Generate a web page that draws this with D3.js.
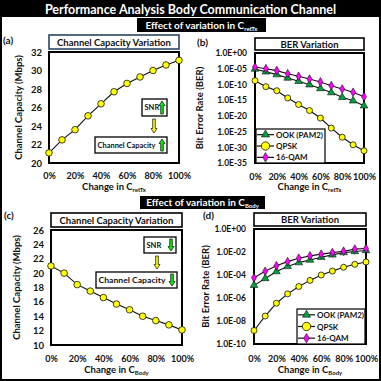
<!DOCTYPE html>
<html><head><meta charset="utf-8">
<script src="https://cdn.jsdelivr.net/npm/d3@7"></script>
<style>
body{margin:0;background:#fff}
svg text{font-family:Lato,'Open Sans',sans-serif;font-weight:bold;fill:#111}
</style>
</head><body>
<svg id="chart" width="381" height="381"></svg>
<script>
// ---------- data ----------
const changeLevels = [0, 0.1, 0.2, 0.3, 0.4, 0.5, 0.6, 0.7, 0.8, 0.9, 1.0];
const xTickValues = [0, 0.2, 0.4, 0.6, 0.8, 1.0];
const capacityRetTx = [21.1, 22.5, 23.6, 25.1, 26.4, 27.7, 28.6, 29.3, 30.0, 30.6, 31.1];
const capacityBody  = [21.0, 20.0, 18.4, 17.5, 16.6, 15.7, 14.9, 14.0, 13.4, 12.8, 12.1];
const berRetTxOOK   = [7.9e-6, 1e-6, 1.3e-7, 1.1e-8, 1e-9, 7.9e-11, 5e-12, 2.5e-13, 7.9e-15, 6.3e-16, 1.6e-17];
const berRetTxQPSK  = [1.6e-9, 2e-11, 1e-12, 5e-15, 4e-17, 5e-19, 2e-21, 1.3e-24, 1.6e-27, 6.3e-30, 7.9e-32];
const berRetTxQAM16 = [3.5e-5, 1e-5, 2.5e-6, 2.5e-7, 4e-8, 5e-9, 6.3e-10, 4e-11, 3.5e-12, 3.2e-13, 1.3e-14];
const berBodyOOK    = [1.26e-5, 5e-5, 2e-4, 5.6e-4, 1.2e-3, 2e-3, 3.5e-3, 5.6e-3, 8.9e-3, 1.1e-2, 1.35e-2];
const berBodyQPSK   = [1.5e-9, 2.7e-8, 3.5e-7, 2.3e-6, 1e-5, 3.4e-5, 1e-4, 2.2e-4, 4.7e-4, 8.5e-4, 1.35e-3];
const berBodyQAM16  = [5.8e-5, 2.1e-4, 6.3e-4, 1.45e-3, 2.9e-3, 4.6e-3, 6.5e-3, 8.9e-3, 1.17e-2, 1.78e-2, 2e-2];
const capTicksRetTx = [20, 22, 24, 26, 28, 30, 32];
const capTicksBody  = [10, 12, 14, 16, 18, 20, 22, 24, 26];
const berTicksRetTx = [1, 1e-5, 1e-10, 1e-15, 1e-20, 1e-25, 1e-30, 1e-35];
const berTicksBody  = [1, 1e-2, 1e-4, 1e-6, 1e-8, 1e-10];
const seriesNames = ["OOK (PAM2)", "QPSK", "16-QAM"];

// ---------- drawing ----------
const svg = d3.select("#chart");
const W = 381, H = 381;

svg.append("rect").attr("x",1).attr("y",1).attr("width",W-2).attr("height",H-2)
  .attr("fill","#fff").attr("stroke","#000").attr("stroke-width",2);
svg.append("rect").attr("x",0).attr("y",0).attr("width",W).attr("height",17).attr("fill","#000");
svg.append("text").attr("x",W/2).attr("y",9).attr("text-anchor","middle")
  .attr("dominant-baseline","central").style("fill","#fff").style("font-size","12.5px")
  .text("Performance Analysis Body Communication Channel");

function effectBox(x, y, w, h, sub) {
  svg.append("rect").attr("x",x).attr("y",y).attr("width",w).attr("height",h).attr("fill","#000");
  const t = svg.append("text").attr("x",x+w/2).attr("y",y+h/2+3.5).attr("text-anchor","middle")
    .style("fill","#fff").style("font-size","10px");
  t.append("tspan").text("Effect of variation in C");
  t.append("tspan").attr("dy",2).style("font-size","6px").style("fill","#fff").text(sub);
}
effectBox(137, 18, 129, 14, "retTx");
effectBox(140, 196, 125, 13, "Body");

const fmtBer = v => {
  const e = Math.round(Math.log10(v));
  return "1.0E" + (e < 0 ? "-" : "+") + String(Math.abs(e)).padStart(2,"0");
};

function blockArrow(g, cx, yTop, yBot, fill, dir) {
  const hw = 3.0, sw = 1.3, hl = 4.5;
  let p;
  if (dir < 0) {
    p = `M${cx},${yTop} L${cx+hw},${yTop+hl} L${cx+sw},${yTop+hl} L${cx+sw},${yBot} L${cx-sw},${yBot} L${cx-sw},${yTop+hl} L${cx-hw},${yTop+hl} Z`;
  } else {
    p = `M${cx},${yBot} L${cx+hw},${yBot-hl} L${cx+sw},${yBot-hl} L${cx+sw},${yTop} L${cx-sw},${yTop} L${cx-sw},${yBot-hl} L${cx-hw},${yBot-hl} Z`;
  }
  g.append("path").attr("d",p).attr("fill",fill).attr("stroke","#222").attr("stroke-width",0.8);
}

function marker(g, type, x, y, s) {
  if (type === "circle") {
    g.append("circle").attr("cx",x).attr("cy",y).attr("r",s)
      .attr("fill","#ffff00").attr("stroke","#111").attr("stroke-width",0.8);
  } else if (type === "triangle") {
    g.append("path").attr("d",d3.symbol(d3.symbolTriangle, s*s*2.2)())
      .attr("transform",`translate(${x},${y})`)
      .attr("fill","#00a040").attr("stroke","#111").attr("stroke-width",0.6);
  } else {
    g.append("path").attr("d",d3.symbol(d3.symbolDiamond, s*s*2.0)())
      .attr("transform",`translate(${x},${y})`)
      .attr("fill","#ff00ff").attr("stroke","#111").attr("stroke-width",0.6);
  }
}

function panel(o) {
  const g = svg.append("g");
  const x = d3.scaleLinear().domain([0,1]).range([o.x0, o.x1]);
  const y = o.log ? d3.scaleLog().domain(o.yDomain).range([o.y1, o.y0])
                  : d3.scaleLinear().domain(o.yDomain).range([o.y1, o.y0]);
  g.append("text").attr("x",o.lx).attr("y",o.ly).style("font-size","10px").text(o.letter);
  g.append("rect").attr("x",o.x0).attr("y",o.ty0).attr("width",o.x1-o.x0).attr("height",o.ty1-o.ty0)
    .attr("fill","#fff").attr("stroke",o.titleStroke||"#000").attr("stroke-width",1.6);
  g.append("text").attr("x",(o.x0+o.x1)/2).attr("y",(o.ty0+o.ty1)/2).attr("text-anchor","middle")
    .attr("dominant-baseline","central").style("font-size","9.5px").text(o.title);
  const ya = d3.axisLeft(y).tickValues(o.yTicks).tickSize(0).tickPadding(o.tickPad)
    .tickFormat(o.log ? fmtBer : d3.format("d"));
  const yg = g.append("g").attr("transform",`translate(${o.x0},0)`).call(ya);
  yg.select(".domain").remove();
  yg.selectAll("text").style("font-size", o.log ? "8.5px" : "9.5px").style("font-family","Lato,sans-serif").style("font-weight","bold");
  const xa = d3.axisBottom(x).tickValues(xTickValues).tickSize(0).tickPadding(0)
    .tickFormat(d3.format(".0%"));
  const xg = g.append("g").attr("transform",`translate(0,${o.xLabY})`).call(xa);
  xg.select(".domain").remove();
  xg.selectAll("text").attr("dy","0.32em").attr("y",0).style("font-size","9px").style("font-family","Lato,sans-serif").style("font-weight","bold");
  g.append("text").attr("transform",`translate(${o.ytx},${(o.y0+o.y1)/2}) rotate(-90)`)
    .attr("text-anchor","middle").attr("dominant-baseline","central").style("font-size","9.5px").text(o.yTitle);
  const xt = g.append("text").attr("x",(o.x0+o.x1)/2).attr("y",o.xTitleY).attr("text-anchor","middle")
    .style("font-size","9.5px");
  xt.append("tspan").text("Change in C");
  xt.append("tspan").attr("dy",2).style("font-size","6px").text(o.sub);
  g.append("rect").attr("x",o.x0).attr("y",o.y0).attr("width",o.x1-o.x0).attr("height",o.y1-o.y0)
    .attr("fill","none").attr("stroke","#000").attr("stroke-width",2);
  const line = d3.line().x((d,i)=>x(changeLevels[i])).y(d=>y(d));
  o.series.forEach(s => {
    g.append("path").attr("d",line(s.values)).attr("fill","none").attr("stroke","#111").attr("stroke-width",1.1);
    s.values.forEach((v,i)=>marker(g, s.type, x(changeLevels[i]), y(v), s.size));
  });
  return {g, x, y};
}

const pa = panel({letter:"(a)", lx:3, ly:44, x0:49, x1:179, y0:52, y1:163, ty0:35, ty1:49,
  titleStroke:"#2a4466", title:"Channel Capacity Variation", log:false, yDomain:[20,32],
  yTicks:capTicksRetTx, tickPad:7, xLabY:176, yTitle:"Channel Capacity (Mbps)", ytx:18,
  xTitleY:190, sub:"retTx",
  series:[{values:capacityRetTx, type:"circle", size:3.3}]});
const pb = panel({letter:"(b)", lx:197, ly:46, x0:255, x1:364, y0:53, y1:163, ty0:38, ty1:50,
  title:"BER Variation", log:true, yDomain:[1e-35,1], yTicks:berTicksRetTx, tickPad:8,
  xLabY:177, yTitle:"Bit Error Rate (BER)", ytx:199, xTitleY:190, sub:"retTx",
  series:[{values:berRetTxOOK, type:"triangle", size:3.4},
          {values:berRetTxQPSK, type:"circle", size:3.0},
          {values:berRetTxQAM16, type:"diamond", size:3.3}]});
const pc = panel({letter:"(c)", lx:4, ly:219, x0:51, x1:182, y0:230, y1:345, ty0:213, ty1:227,
  title:"Channel Capacity Variation", log:false, yDomain:[10,26], yTicks:capTicksBody, tickPad:7,
  xLabY:359, yTitle:"Channel Capacity (Mbps)", ytx:16, xTitleY:373, sub:"Body",
  series:[{values:capacityBody, type:"circle", size:3.3}]});
const pd = panel({letter:"(d)", lx:203, ly:219, x0:254, x1:366, y0:229, y1:344, ty0:213, ty1:226,
  title:"BER Variation", log:true, yDomain:[1e-10,1], yTicks:berTicksBody, tickPad:8,
  xLabY:359, yTitle:"Bit Error Rate (BER)", ytx:205, xTitleY:373, sub:"Body",
  series:[{values:berBodyOOK, type:"triangle", size:3.4},
          {values:berBodyQPSK, type:"circle", size:3.0},
          {values:berBodyQAM16, type:"diamond", size:3.3}]});

function legend(g, x, y, w, h) {
  g.append("rect").attr("x",x).attr("y",y).attr("width",w).attr("height",h)
    .attr("fill","#fff").attr("stroke","#000").attr("stroke-width",1.2);
  const types = ["triangle","circle","diamond"], sizes=[3.6,4.2,3.6];
  const rowH = h/3;
  seriesNames.forEach((n,i)=>{
    const cy = y + rowH*(i+0.5);
    g.append("line").attr("x1",x+1).attr("x2",x+18).attr("y1",cy).attr("y2",cy).attr("stroke","#111").attr("stroke-width",1.2);
    marker(g, types[i], x+9.5, cy, sizes[i]);
    g.append("text").attr("x",x+20).attr("y",cy).attr("dominant-baseline","central")
      .style("font-size","8px").text(n);
  });
}
legend(pb.g, 256, 129, 69, 34);
legend(pd.g, 297, 309, 68, 35);

function annot(g, snrBox, ccBox, yArrowX, yArrowTop, yArrowBot, dir) {
  g.append("rect").attr("x",snrBox[0]).attr("y",snrBox[1]).attr("width",snrBox[2]-snrBox[0]).attr("height",snrBox[3]-snrBox[1])
    .attr("fill","#fff").attr("stroke","#000").attr("stroke-width",1.3);
  g.append("text").attr("x",snrBox[0]+2.5).attr("y",(snrBox[1]+snrBox[3])/2).attr("dominant-baseline","central")
    .style("font-size","7.5px").text("SNR");
  blockArrow(g, snrBox[2]-5, snrBox[1]+2, snrBox[3]-2, "#00ee00", dir);
  blockArrow(g, yArrowX, yArrowTop, yArrowBot, "#ffff00", 1);
  g.append("rect").attr("x",ccBox[0]).attr("y",ccBox[1]).attr("width",ccBox[2]-ccBox[0]).attr("height",ccBox[3]-ccBox[1])
    .attr("fill","#fff").attr("stroke","#000").attr("stroke-width",1.3);
  g.append("text").attr("x",ccBox[0]+2.5).attr("y",(ccBox[1]+ccBox[3])/2).attr("dominant-baseline","central")
    .attr("textLength", ccBox[2]-ccBox[0]-14).attr("lengthAdjust","spacingAndGlyphs")
    .style("font-size","8px").text("Channel Capacity");
  blockArrow(g, ccBox[2]-5, ccBox[1]+2, ccBox[3]-2, "#00ee00", dir);
}
annot(pa.g, [142,99,167,116], [95,137,167,153], 154, 119, 133, -1);
annot(pc.g, [144,237,176,253], [96,272,177,288], 157, 256, 269, 1);
</script>
</body></html>
